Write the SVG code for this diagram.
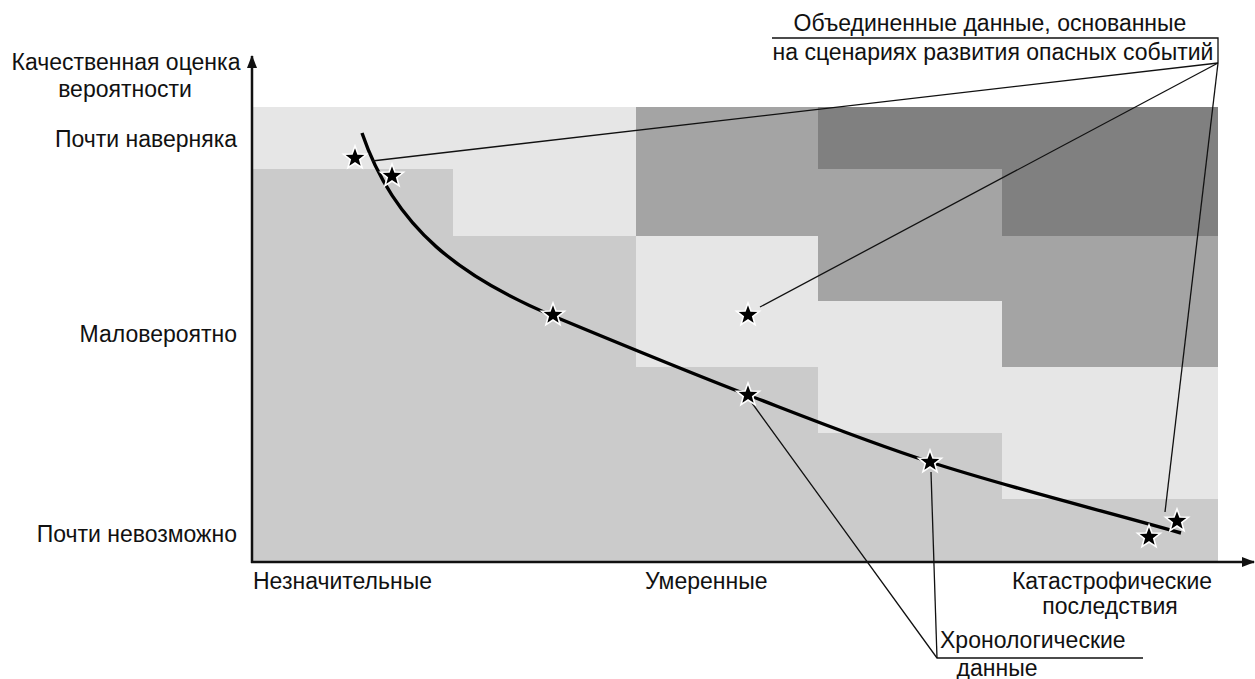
<svg xmlns="http://www.w3.org/2000/svg" width="1255" height="679" viewBox="0 0 1255 679">
<style>
text{font-family:"Liberation Sans",Arial,sans-serif;font-size:23px;fill:#111}
.c1{fill:#e6e6e6}.c2{fill:#cbcbcb}.c3{fill:#a4a4a4}.c4{fill:#808080}
.axis{stroke:#111;stroke-width:2.5;fill:none}
.conn{stroke:#111;stroke-width:1.3;fill:none}
.curve{stroke:#000;stroke-width:3.4;fill:none}
.star{fill:#000;stroke:#fff;stroke-width:1.6;stroke-linejoin:miter}
</style>
<defs>
<marker id="arr" viewBox="0 0 13 10" refX="12" refY="5" markerWidth="13" markerHeight="10" markerUnits="userSpaceOnUse" orient="auto">
<path d="M0,0 L13,5 L0,10 Z" fill="#111"/>
</marker>
<path id="st" d="M0,-12 L2.94,-4.05 L11.41,-3.71 L4.76,1.55 L7.05,9.71 L0,5 L-7.05,9.71 L-4.76,1.55 L-11.41,-3.71 L-2.94,-4.05 Z"/>
</defs>
<rect width="1255" height="679" fill="#fff"/>
<g id="grid">
<rect class="c2" x="252" y="107" width="966" height="455"/>
<rect class="c1" x="252" y="107" width="384" height="62"/>
<rect class="c1" x="453" y="169" width="183" height="67"/>
<rect class="c3" x="636" y="107" width="182" height="129"/>
<rect class="c4" x="818" y="107" width="400" height="62"/>
<rect class="c3" x="818" y="169" width="184" height="132"/>
<rect class="c4" x="1002" y="169" width="216" height="67"/>
<rect class="c3" x="1002" y="236" width="216" height="131"/>
<rect class="c1" x="636" y="236" width="182" height="131"/>
<rect class="c1" x="818" y="301" width="184" height="132"/>
<rect class="c1" x="1002" y="367" width="216" height="132"/>
</g>
<g id="axes">
<line class="axis" x1="252" y1="563" x2="252" y2="56" marker-end="url(#arr)"/>
<line class="axis" x1="251" y1="562" x2="1254" y2="562" marker-end="url(#arr)"/>
</g>
<g id="curve">
<path class="curve" d="M362,133 C395,230 463,278 553,316 C618,343 683,370 748,395 C809,418.5 869,442.6 930,462 C1014,489 1097,509 1181,533"/>
</g>
<g id="connectors">
<polyline class="conn" points="772,38 1218,38 1218,63"/>
<line class="conn" x1="1218" y1="63" x2="372" y2="161"/>
<line class="conn" x1="1218" y1="63" x2="760" y2="307"/>
<line class="conn" x1="1218" y1="63" x2="1165" y2="512"/>
<polyline class="conn" points="752,403 937,658 1143,658"/>
<line class="conn" x1="931" y1="472" x2="937" y2="658"/>
</g>
<g id="stars">
<use href="#st" class="star" x="355" y="158"/>
<use href="#st" class="star" x="392" y="176"/>
<use href="#st" class="star" x="553" y="315"/>
<use href="#st" class="star" x="748" y="315"/>
<use href="#st" class="star" x="748" y="395"/>
<use href="#st" class="star" x="930" y="462"/>
<use href="#st" class="star" x="1177" y="521"/>
<use href="#st" class="star" x="1149" y="537"/>
</g>
<g id="labels">
<text x="990" y="31" text-anchor="middle">Объединенные данные, основанные</text>
<text x="993" y="60" text-anchor="middle">на сценариях развития опасных событий</text>
<text x="126" y="70" text-anchor="middle">Качественная оценка</text>
<text x="125" y="97" text-anchor="middle">вероятности</text>
<text x="237" y="147" text-anchor="end">Почти наверняка</text>
<text x="237" y="342" text-anchor="end">Маловероятно</text>
<text x="237" y="542" text-anchor="end">Почти невозможно</text>
<text x="253" y="589">Незначительные</text>
<text x="645" y="589">Умеренные</text>
<text x="1112" y="589" text-anchor="middle">Катастрофические</text>
<text x="1110" y="614" text-anchor="middle">последствия</text>
<text x="940" y="648">Хронологические</text>
<text x="997" y="676" text-anchor="middle">данные</text>
</g>
</svg>
